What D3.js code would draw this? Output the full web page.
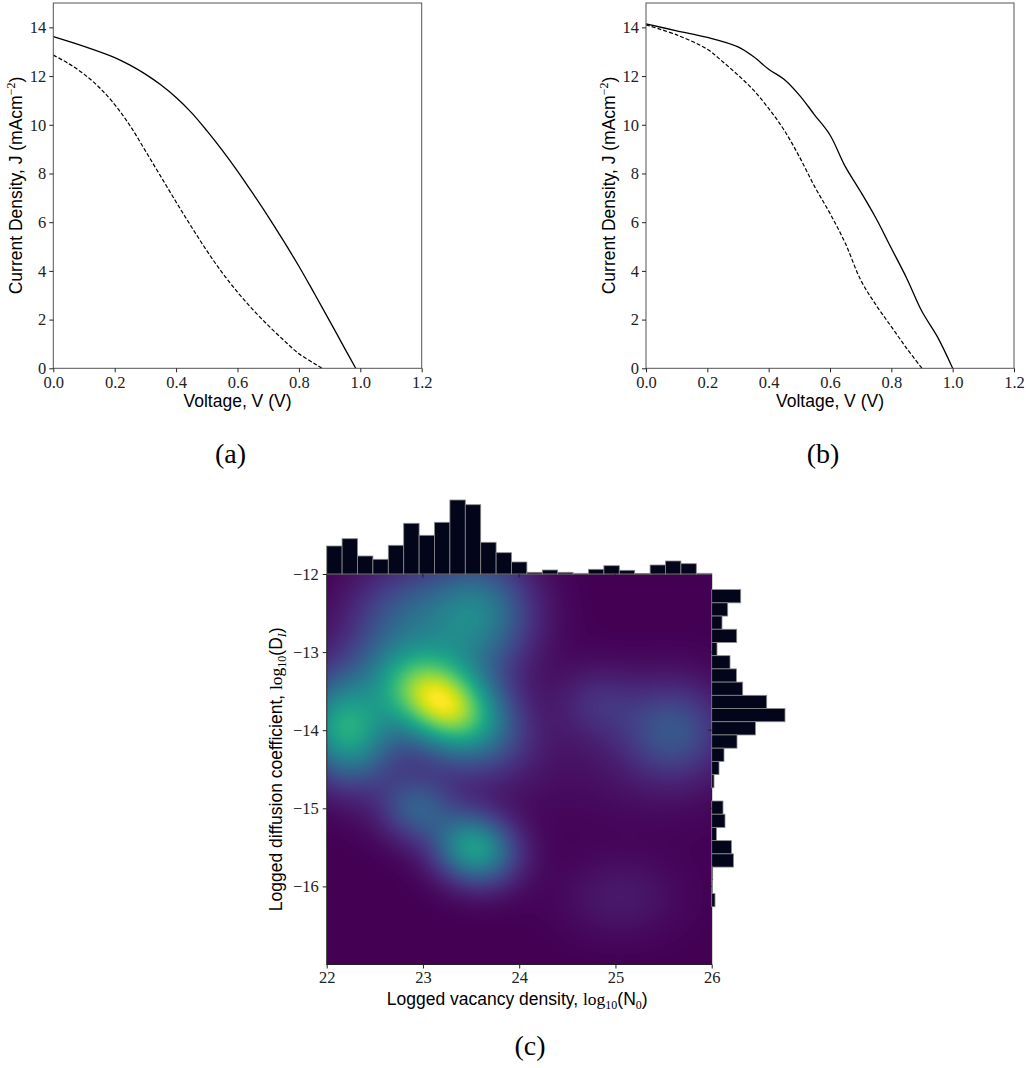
<!DOCTYPE html>
<html>
<head>
<meta charset="utf-8">
<script src="https://cdn.jsdelivr.net/npm/d3@7"></script>
<style>
  body { margin: 0; background: #fff; }
  svg { display: block; }
</style>
</head>
<body>
<div id="chart"></div>
<script>
// ---- datos de las curvas J-V (a) ----
const aSolidV = [0, 0.1, 0.2, 0.25, 0.3, 0.35, 0.4, 0.45, 0.5, 0.55, 0.6, 0.65, 0.7, 0.75, 0.8, 0.85, 0.9, 0.95, 0.985];
const aSolidJ = [13.62, 13.22, 12.76, 12.45, 12.08, 11.64, 11.12, 10.5, 9.76, 8.96, 8.1, 7.18, 6.23, 5.23, 4.19, 3.08, 1.95, 0.8, 0];
const aDashV = [0, 0.05, 0.1, 0.15, 0.2, 0.25, 0.3, 0.35, 0.4, 0.45, 0.5, 0.55, 0.6, 0.65, 0.7, 0.75, 0.8, 0.85, 0.875];
const aDashJ = [12.86, 12.51, 12.08, 11.53, 10.83, 9.96, 8.93, 7.88, 6.83, 5.81, 4.83, 3.93, 3.13, 2.41, 1.76, 1.16, 0.6, 0.2, 0];

// ---- datos de las curvas J-V (b) ----
const bSolidV = [0, 0.1, 0.2, 0.3, 0.35, 0.4, 0.45, 0.5, 0.55, 0.6, 0.65, 0.7, 0.75, 0.8, 0.85, 0.9, 0.95, 1.0];
const bSolidJ = [14.14, 13.86, 13.59, 13.2, 12.8, 12.28, 11.87, 11.22, 10.4, 9.58, 8.28, 7.25, 6.16, 4.93, 3.7, 2.33, 1.3, 0];
const bDashV = [0, 0.1, 0.2, 0.25, 0.3, 0.35, 0.4, 0.45, 0.5, 0.55, 0.6, 0.65, 0.7, 0.75, 0.8, 0.85, 0.9];
const bDashJ = [14.1, 13.69, 13.1, 12.59, 12.04, 11.43, 10.67, 9.79, 8.69, 7.46, 6.36, 5.13, 3.63, 2.6, 1.71, 0.82, 0];

const vTicks = [0, 0.2, 0.4, 0.6, 0.8, 1.0, 1.2];
const jTicks = [0, 2, 4, 6, 8, 10, 12, 14];

// ---- datos del panel (c) ----
// histograma superior: log10(N0), 25 bins entre 22 y 26
const topBinLo = 22.0, topBinHi = 26.0;
const topCounts = [28, 35.3, 18, 14.7, 28.7, 50.7, 38.7, 51.7, 74, 69.3, 31.7, 21.3, 12, 1.7, 4, 1.7, 0.7, 4.7, 8.3, 3.7, 0.3, 9, 13, 10.3, 0.7];
// histograma derecho: log10(DI), 24 bins entre -12.2 y -16.26
const rightBinHi = -12.2, rightBinLo = -16.26;
const rightCounts = [29, 16, 10.3, 25, 5.3, 18.3, 24.7, 31, 55, 73.3, 43.7, 25.3, 12.3, 7.3, 2.3, 0, 11.3, 13.3, 4.7, 19.7, 21.7, 1, 0.7, 3.3];

// componentes de la densidad (KDE)
const kdeCx  = [23.2, 22.2, 23.57, 22.8, 23.54, 22.93, 25.6, 24.82, 25.05, 22.95, 25.2, 23.3];
const kdeCy  = [-13.66, -13.99, -12.5, -12.45, -15.52, -15.0, -14.0, -13.65, -16.14, -13.1, -14.3, -14.6];
const kdeAmp = [1.0, 0.66, 0.45, 0.2, 0.6, 0.28, 0.26, 0.12, 0.07, 0.15, 0.05, 0.05];
const kdeSx  = [0.44, 0.33, 0.38, 0.38, 0.29, 0.26, 0.36, 0.3, 0.42, 0.55, 0.8, 0.5];
const kdeSy  = [0.44, 0.46, 0.5, 0.42, 0.31, 0.29, 0.42, 0.32, 0.36, 0.55, 0.6, 0.5];
const kdeRho = [-0.38, -0.1, 0, 0, -0.1, 0, 0, 0, 0, 0, 0, 0];

const nTicks = [22, 23, 24, 25, 26];
const dTicks = [-12, -13, -14, -15, -16];

// ---- lienzo ----
const W = 1026, H = 1068;
const serif = "'Liberation Serif', 'DejaVu Serif', serif";
const sans = "'Liberation Sans', Arial, sans-serif";

const svg = d3.select("#chart").append("svg")
  .attr("width", W).attr("height", H);
svg.append("rect").attr("width", W).attr("height", H).attr("fill", "#fff");

function styleAxis(g) {
  g.select(".domain").remove();
  g.selectAll(".tick line").attr("stroke", "#222");
  g.selectAll(".tick text")
    .attr("font-family", serif)
    .attr("font-size", 16.5)
    .attr("fill", "#222");
}

// Panel J-V
function drawIV(left, right, sV, sJ, dV, dJ, caption) {
  const x = d3.scaleLinear().domain([0, 1.2]).range([left, right]);
  const y = d3.scaleLinear().domain([0, 15]).range([368.3, 3]);
  const g = svg.append("g");

  const line = d3.line().x(d => x(d[0])).y(d => y(d[1])).curve(d3.curveCatmullRom.alpha(0.5));

  g.append("path")
    .datum(sV.map((v, i) => [v, sJ[i]]))
    .attr("d", line)
    .attr("fill", "none")
    .attr("stroke", "#000")
    .attr("stroke-width", 1.3);

  g.append("path")
    .datum(dV.map((v, i) => [v, dJ[i]]))
    .attr("d", line)
    .attr("fill", "none")
    .attr("stroke", "#000")
    .attr("stroke-width", 1.2)
    .attr("stroke-dasharray", "4,2");

  // marco
  g.append("rect")
    .attr("x", left).attr("y", 3)
    .attr("width", right - left).attr("height", 365.3)
    .attr("fill", "none").attr("stroke", "#555").attr("stroke-width", 1);

  g.append("g")
    .attr("transform", "translate(0,368.3)")
    .call(d3.axisBottom(x).tickValues(vTicks).tickFormat(d3.format(".1f")).tickSize(4).tickPadding(4))
    .call(styleAxis);

  g.append("g")
    .attr("transform", `translate(${left},0)`)
    .call(d3.axisLeft(y).tickValues(jTicks).tickSize(4).tickPadding(3))
    .call(styleAxis);

  const cx = (left + right) / 2;
  g.append("text")
    .attr("x", cx).attr("y", 407)
    .attr("text-anchor", "middle")
    .attr("font-family", sans).attr("font-size", 17.5)
    .text("Voltage, V (V)");

  const yl = g.append("text")
    .attr("transform", `translate(${left - 31},185.5) rotate(-90)`)
    .attr("text-anchor", "middle")
    .attr("font-family", sans).attr("font-size", 17.5);
  yl.append("tspan").text("Current Density, J (mAcm");
  yl.append("tspan").attr("font-family", serif).attr("font-size", 12).attr("dy", -7).text("\u22122");
  yl.append("tspan").attr("dy", 7).text(")");

  g.append("text")
    .attr("x", cx - 7).attr("y", 463)
    .attr("text-anchor", "middle")
    .attr("font-family", serif).attr("font-size", 28)
    .text(caption);
}

drawIV(53.3, 421.7, aSolidV, aSolidJ, aDashV, aDashJ, "(a)");
drawIV(646, 1014, bSolidV, bSolidJ, bDashV, bDashJ, "(b)");

// ---- panel (c) ----
const xH = d3.scaleLinear().domain([22, 26]).range([326.7, 711.7]);
const yH = d3.scaleLinear().domain([-17, -12]).range([964.5, 574]);

// densidad
function density(x, y) {
  let s = 0;
  for (let k = 0; k < kdeCx.length; k++) {
    const dx = (x - kdeCx[k]) / kdeSx[k];
    const dy = (y - kdeCy[k]) / kdeSy[k];
    const r = kdeRho[k];
    const z = (dx * dx - 2 * r * dx * dy + dy * dy) / (1 - r * r);
    s += kdeAmp[k] * Math.exp(-z / 2);
  }
  return s;
}

const hx0 = Math.round(xH(22)), hx1 = Math.round(xH(26));
const hy0 = Math.round(yH(-12)), hy1 = Math.round(yH(-17));
const cw = hx1 - hx0, ch = hy1 - hy0;
const canvas = document.createElement("canvas");
canvas.width = cw; canvas.height = ch;
const ctx = canvas.getContext("2d");
const img = ctx.createImageData(cw, ch);
const vals = new Float32Array(cw * ch);
let vmax = 0;
for (let j = 0; j < ch; j++) {
  for (let i = 0; i < cw; i++) {
    const v = density(xH.invert(hx0 + i + 0.5), yH.invert(hy0 + j + 0.5));
    vals[j * cw + i] = v;
    if (v > vmax) vmax = v;
  }
}
for (let p = 0; p < vals.length; p++) {
  const c = d3.rgb(d3.interpolateViridis(Math.min(1, vals[p] / vmax)));
  img.data[p * 4] = c.r;
  img.data[p * 4 + 1] = c.g;
  img.data[p * 4 + 2] = c.b;
  img.data[p * 4 + 3] = 255;
}
ctx.putImageData(img, 0, 0);

const gc = svg.append("g");
gc.append("image")
  .attr("x", hx0).attr("y", hy0)
  .attr("width", cw).attr("height", ch)
  .attr("preserveAspectRatio", "none")
  .attr("href", canvas.toDataURL());

gc.append("rect")
  .attr("x", xH(22)).attr("y", yH(-12))
  .attr("width", xH(26) - xH(22)).attr("height", yH(-17) - yH(-12))
  .attr("fill", "none").attr("stroke", "#222").attr("stroke-width", 1);

// histograma superior
const topMax = d3.max(topCounts);
const yT = d3.scaleLinear().domain([0, topMax]).range([574, 500]);
const topStep = (topBinHi - topBinLo) / topCounts.length;
gc.append("g").selectAll("rect")
  .data(topCounts)
  .join("rect")
  .attr("x", (d, i) => xH(topBinLo + i * topStep))
  .attr("width", (d, i) => xH(topBinLo + (i + 1) * topStep) - xH(topBinLo + i * topStep))
  .attr("y", d => yT(d))
  .attr("height", d => yT(0) - yT(d))
  .attr("fill", "#03051a")
  .attr("stroke", "#8a8a8a")
  .attr("stroke-width", 0.8);

// histograma derecho
const rightMax = d3.max(rightCounts);
const xR = d3.scaleLinear().domain([0, rightMax]).range([711.7, 785]);
const rightStep = (rightBinHi - rightBinLo) / rightCounts.length;
gc.append("g").selectAll("rect")
  .data(rightCounts)
  .join("rect")
  .attr("x", xR(0))
  .attr("width", d => xR(d) - xR(0))
  .attr("y", (d, i) => yH(rightBinHi - i * rightStep))
  .attr("height", (d, i) => yH(rightBinHi - (i + 1) * rightStep) - yH(rightBinHi - i * rightStep))
  .attr("fill", "#03051a")
  .attr("stroke", "#8a8a8a")
  .attr("stroke-width", 0.8);

// ticks de los ejes marginales (hacia dentro del mapa)
gc.append("g").selectAll("line")
  .data(nTicks.slice(1, -1))
  .join("line")
  .attr("x1", d => xH(d)).attr("x2", d => xH(d))
  .attr("y1", yH(-12)).attr("y2", yH(-12) + 3.5)
  .attr("stroke", "#222");
gc.append("g").selectAll("line")
  .data(dTicks.slice(1))
  .join("line")
  .attr("x1", xH(26)).attr("x2", xH(26) - 3.5)
  .attr("y1", d => yH(d)).attr("y2", d => yH(d))
  .attr("stroke", "#222");

const fmtMinus = d => (d < 0 ? "\u2212" + Math.abs(d) : String(d));
gc.append("g")
  .attr("transform", `translate(0,${yH(-17)})`)
  .call(d3.axisBottom(xH).tickValues(nTicks).tickFormat(d3.format("d")).tickSize(4).tickPadding(3))
  .call(styleAxis);
gc.append("g")
  .attr("transform", `translate(${xH(22)},0)`)
  .call(d3.axisLeft(yH).tickValues(dTicks).tickFormat(fmtMinus).tickSize(4).tickPadding(4))
  .call(styleAxis);

const xl = gc.append("text")
  .attr("x", (xH(22) + xH(26)) / 2 - 2).attr("y", 1005)
  .attr("text-anchor", "middle")
  .attr("font-family", sans).attr("font-size", 17.5);
xl.append("tspan").text("Logged vacancy density, ");
xl.append("tspan").attr("font-family", serif).text("log");
xl.append("tspan").attr("font-family", serif).attr("font-size", 12).attr("dy", 4).text("10");
xl.append("tspan").attr("dy", -4).text("(N");
xl.append("tspan").attr("font-family", serif).attr("font-size", 12).attr("dy", 4).text("0");
xl.append("tspan").attr("dy", -4).text(")");

const ylc = gc.append("text")
  .attr("transform", `translate(282,${(yH(-12) + yH(-17)) / 2}) rotate(-90)`)
  .attr("text-anchor", "middle")
  .attr("font-family", sans).attr("font-size", 17.5);
ylc.append("tspan").text("Logged diffusion coefficient, ");
ylc.append("tspan").attr("font-family", serif).text("log");
ylc.append("tspan").attr("font-family", serif).attr("font-size", 12).attr("dy", 4).text("10");
ylc.append("tspan").attr("dy", -4).text("(D");
ylc.append("tspan").attr("font-family", serif).attr("font-style", "italic").attr("font-size", 12).attr("dy", 4).text("I");
ylc.append("tspan").attr("dy", -4).text(")");

gc.append("text")
  .attr("x", 530).attr("y", 1055)
  .attr("text-anchor", "middle")
  .attr("font-family", serif).attr("font-size", 28)
  .text("(c)");
</script>
</body>
</html>
